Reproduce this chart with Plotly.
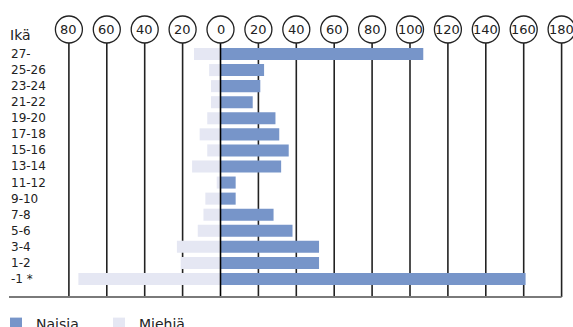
import plotly.graph_objects as go

# ---- data ----
categories = ["27-", "25-26", "23-24", "21-22", "19-20", "17-18", "15-16", "13-14",
              "11-12", "9-10", "7-8", "5-6", "3-4", "1-2", "-1 *"]
women = [107, 23, 21, 17, 29, 31, 36, 32, 8, 8, 28, 38, 52, 52, 161]   # Naisia
men = [14, 6, 5, 5, 7, 11, 7, 15, 2, 8, 9, 12, 23, 21, 75]             # Miehiä
tick_values = [-80, -60, -40, -20, 0, 20, 40, 60, 80, 100, 120, 140, 160, 180]
tick_labels = [str(abs(v)) for v in tick_values]
header = "Ikä"
series_names = ["Naisia", "Miehiä"]

# ---- geometry / style ----
W, H = 573, 327
PX_PER_UNIT = 1.895
ZERO_PX = 220.5
x_min = -ZERO_PX / PX_PER_UNIT
x_max = (W - ZERO_PX) / PX_PER_UNIT
ROW_PX = 16.07
TOP_ROW_PX = 54
n = len(categories)
y_top = (n - 1) + TOP_ROW_PX / ROW_PX
y_bot = y_top - H / ROW_PX

BLUE = "#7795C9"
LIGHT = "#E5E7F3"
DARK = "#222222"
FONT = "DejaVu Sans"

order = categories[::-1]  # bottom -> top

fig = go.Figure()
fig.add_trace(go.Bar(
    y=categories, x=women, orientation="h", name=series_names[0],
    marker=dict(color=BLUE, line=dict(width=0)), hoverinfo="skip",
))
fig.add_trace(go.Bar(
    y=categories, x=[-m for m in men], orientation="h", name=series_names[1],
    marker=dict(color=LIGHT, line=dict(width=0)), hoverinfo="skip",
))

shapes = []
annotations = []
circ_cy = 1 - 29.5 / H
grid_top = 1 - 43 / H
grid_bot = 1 - 297 / H
R = 13.5
for v, lab in zip(tick_values, tick_labels):
    shapes.append(dict(
        type="line", xref="x", yref="paper", x0=v, x1=v, y0=grid_top, y1=grid_bot,
        line=dict(color=DARK if v != 0 else "#000000", width=1.6),
        layer="above" if v == 0 else "below",
    ))
    shapes.append(dict(
        type="circle", xref="x", yref="paper", xsizemode="pixel", ysizemode="pixel",
        xanchor=v, yanchor=circ_cy, x0=-R, x1=R, y0=-R, y1=R,
        line=dict(color=DARK, width=1.3), fillcolor="white", layer="above",
    ))
    annotations.append(dict(
        x=v, y=circ_cy, xref="x", yref="paper", text=lab, showarrow=False,
        font=dict(family=FONT, size=13, color=DARK), xanchor="center", yanchor="middle",
    ))

# baseline
shapes.append(dict(
    type="line", xref="x", yref="paper", x0=x_min + 9 / PX_PER_UNIT, x1=tick_values[-1],
    y0=grid_bot, y1=grid_bot, line=dict(color="#7a7a7a", width=2), layer="above",
))

# category labels
for c in categories:
    annotations.append(dict(
        x=10 / W, y=c, xref="paper", yref="y", text=c, showarrow=False, height=14,
        borderpad=0, font=dict(family=FONT, size=12, color=DARK),
        xanchor="left", yanchor="middle",
    ))
annotations.append(dict(
    x=8 / W, y=1 - 35 / H, xref="paper", yref="paper", text=header, showarrow=False,
    font=dict(family=FONT, size=14, color=DARK), xanchor="left", yanchor="middle",
))

fig.update_layout(
    width=W, height=H,
    margin=dict(l=0, r=0, t=0, b=0, autoexpand=False),
    paper_bgcolor="white", plot_bgcolor="white",
    barmode="relative", bargap=0.25,
    xaxis=dict(range=[x_min, x_max], visible=False, fixedrange=True),
    yaxis=dict(range=[y_bot, y_top], type="category", categoryorder="array",
               categoryarray=order, visible=False, fixedrange=True),
    shapes=shapes, annotations=annotations,
    showlegend=True,
    legend=dict(orientation="h", x=-4 / W, xanchor="left", y=1 - 324 / H, yanchor="middle",
                font=dict(family=FONT, size=14, color=DARK), traceorder="normal",
                entrywidth=58, entrywidthmode="pixels", bgcolor="rgba(0,0,0,0)"),
)

fig.write_html("out.html")
